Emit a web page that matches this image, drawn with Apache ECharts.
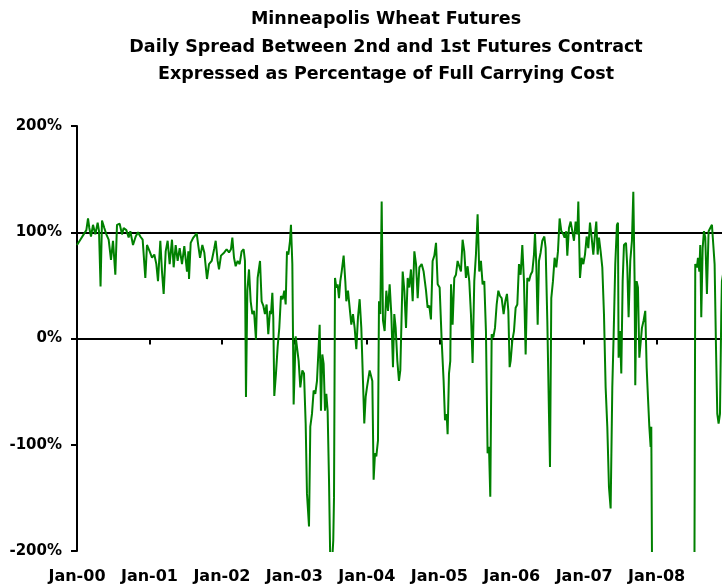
<!DOCTYPE html>
<html>
<head>
<meta charset="utf-8">
<script src="https://cdn.jsdelivr.net/npm/echarts@6/dist/echarts.min.js"></script>
<style>
  html, body { margin: 0; padding: 0; overflow: hidden; background: #fff; width: 722px; height: 588px; }
  #chart { width: 772px; height: 588px; }
</style>
</head>
<body>
<div id="chart"></div>
<script>
// Chart title, one entry per line
const titleLines = [
  'Minneapolis Wheat Futures',
  'Daily Spread Between 2nd and 1st Futures Contract',
  'Expressed as Percentage of Full Carrying Cost'
];

// Axis tick labels
const xTickLabels = ['Jan-00', 'Jan-01', 'Jan-02', 'Jan-03', 'Jan-04', 'Jan-05', 'Jan-06', 'Jan-07', 'Jan-08'];
const yTickLabels = ['-200%', '-100%', '0%', '100%', '200%'];

// Observation dates as fractional years
const sampleYears = [
  2000.000, 2000.046, 2000.092, 2000.129, 2000.152, 2000.170, 2000.193, 2000.221, 2000.253, 2000.285,
  2000.304, 2000.325, 2000.345, 2000.377, 2000.405, 2000.437, 2000.469, 2000.497, 2000.529, 2000.552,
  2000.589, 2000.621, 2000.644, 2000.681, 2000.713, 2000.736, 2000.773, 2000.810, 2000.842, 2000.874,
  2000.906, 2000.929, 2000.943, 2000.966,
  2001.003, 2001.035, 2001.067, 2001.095, 2001.118, 2001.150, 2001.173, 2001.196, 2001.224, 2001.251,
  2001.279, 2001.311, 2001.334, 2001.362, 2001.389, 2001.417, 2001.449, 2001.481, 2001.518,
  2001.537, 2001.546, 2001.569, 2001.606, 2001.652, 2001.675, 2001.698, 2001.730, 2001.757, 2001.794,
  2001.822, 2001.859, 2001.895, 2001.914, 2001.941, 2001.960, 2001.987,
  2002.033, 2002.065, 2002.098, 2002.125, 2002.144, 2002.167, 2002.190, 2002.217, 2002.245, 2002.272,
  2002.300, 2002.318, 2002.332, 2002.351, 2002.374, 2002.397, 2002.420, 2002.443, 2002.470, 2002.493,
  2002.526, 2002.548, 2002.571, 2002.594, 2002.617, 2002.640, 2002.663, 2002.677, 2002.696, 2002.709,
  2002.723, 2002.746, 2002.769, 2002.792, 2002.815, 2002.838, 2002.861, 2002.880, 2002.898, 2002.917,
  2002.940, 2002.953, 2002.972, 2002.990,
  2003.018, 2003.036, 2003.059, 2003.082, 2003.110, 2003.133, 2003.156, 2003.174, 2003.202, 2003.220,
  2003.243, 2003.266, 2003.289, 2003.312, 2003.335, 2003.349, 2003.367, 2003.386, 2003.404, 2003.423,
  2003.441, 2003.459, 2003.478, 2003.501, 2003.524, 2003.537, 2003.547, 2003.561, 2003.579, 2003.597,
  2003.616, 2003.634, 2003.653, 2003.680, 2003.703, 2003.717, 2003.740, 2003.763, 2003.786, 2003.809,
  2003.832, 2003.855, 2003.878, 2003.901, 2003.924, 2003.947, 2003.965, 2003.984,
  2004.002, 2004.021, 2004.039, 2004.062, 2004.076, 2004.094, 2004.113, 2004.131, 2004.154, 2004.168,
  2004.186, 2004.205, 2004.223, 2004.246, 2004.269, 2004.292, 2004.315, 2004.338, 2004.361, 2004.379,
  2004.398, 2004.421, 2004.444, 2004.462,
  2004.495, 2004.518, 2004.541, 2004.564, 2004.586, 2004.609, 2004.633, 2004.656, 2004.679, 2004.702,
  2004.725, 2004.757, 2004.784, 2004.817, 2004.839, 2004.862, 2004.885, 2004.908, 2004.932, 2004.955,
  2004.978,
  2005.005, 2005.033, 2005.060, 2005.079, 2005.102, 2005.115, 2005.134, 2005.152, 2005.162, 2005.184,
  2005.207, 2005.230, 2005.253, 2005.276, 2005.299, 2005.322, 2005.345, 2005.368, 2005.391, 2005.414,
  2005.437, 2005.460, 2005.483, 2005.506, 2005.529, 2005.552, 2005.575, 2005.598, 2005.621, 2005.644,
  2005.667, 2005.686, 2005.704, 2005.723, 2005.746, 2005.769, 2005.792, 2005.815, 2005.838, 2005.861,
  2005.888, 2005.911, 2005.934, 2005.953, 2005.971, 2005.985,
  2006.008, 2006.031, 2006.054, 2006.077, 2006.100, 2006.123, 2006.146, 2006.169, 2006.192, 2006.215,
  2006.238, 2006.261, 2006.284, 2006.307, 2006.321, 2006.339, 2006.358, 2006.376, 2006.399, 2006.422,
  2006.450, 2006.468, 2006.491, 2006.514, 2006.528, 2006.546, 2006.569, 2006.592, 2006.615, 2006.638,
  2006.661, 2006.684, 2006.707, 2006.730, 2006.753, 2006.767, 2006.790, 2006.813, 2006.836, 2006.859,
  2006.882, 2006.905, 2006.919, 2006.942, 2006.965, 2006.988,
  2007.011, 2007.034, 2007.057, 2007.080, 2007.103, 2007.126, 2007.149, 2007.167, 2007.186, 2007.204,
  2007.227, 2007.250, 2007.273, 2007.296, 2007.319, 2007.342, 2007.365, 2007.388, 2007.406, 2007.429,
  2007.452, 2007.466, 2007.475, 2007.494, 2007.512, 2007.531, 2007.549, 2007.577, 2007.595, 2007.613,
  2007.636, 2007.659, 2007.678, 2007.696, 2007.705, 2007.724, 2007.742, 2007.761, 2007.779, 2007.797,
  2007.820, 2007.843, 2007.862, 2007.880, 2007.899, 2007.917, 2007.926, 2007.940,
  2008.100, 2008.300, 2008.520, 2008.533, 2008.556, 2008.570, 2008.589, 2008.602, 2008.616, 2008.635,
  2008.653, 2008.671, 2008.694, 2008.717, 2008.740, 2008.763, 2008.782, 2008.800, 2008.819, 2008.837,
  2008.855, 2008.874, 2008.892, 2008.901, 2008.950
];

// Spread between 2nd and 1st contract, % of full carrying cost
const spreadPct = [
  88, 93, 98, 102, 113, 104, 96, 107, 98, 109,
  101, 49, 111, 104, 98, 93, 74, 92, 60, 107,
  108, 98, 104, 102, 95, 101, 88, 96, 100, 96,
  93, 92, 57, 88,
  82, 76, 79, 70, 54, 92, 63, 42, 82, 92,
  70, 93, 67, 88, 73, 85, 70, 87, 63,
  82, 56, 90, 95, 99, 87, 76, 88, 81, 56,
  70, 73, 85, 92, 73, 65, 78,
  81, 84, 81, 84, 95, 76, 68, 73, 70, 82,
  84, 73, -55, 45, 65, 35, 23, 26, -1, 57,
  73, 35, 31, 23, 32, 4, 26, 23, 43, 20,
  -54, -33, -8, 10, 40, 37, 45, 32, 82, 79,
  92, 107, 70, -62,
  2, -8, -21, -46, -30, -33, -80, -146, -177, -83,
  -71, -49, -52, -40, -8, 13, -68, -15, -24, -68,
  -52, -68, -133, -235, -235, -190, -150, 57, 48, 51,
  38, 54, 63, 78, 54, 35, 45, 45, 13, 23,
  10, -10, 20, 37, 10, -40, -80, -55,
  -46, -46, -30, -29, -40, -133, -108, -111, -96, 35,
  23, 129, 17, 7, 45, 26, 51, 23, -27, 23,
  10, -21, -40, -30,
  63, 45, 10, 57, 48, 65, 35, 82, 70, 38,
  67, 70, 63, 45, 29, 31, 18, 73, 78, 90,
  51,
  48, -2, -40, -77, -71, -90, -33, -21, 51, 13,
  57, 60, 73, 74, 63, 93, 82, 57, 68, 54,
  23, -23, 54, 79, 117, 63, 73, 51, 54, 7,
  -108, -102, -149, 4, 1, 10, 32, 45, 40, 38,
  23, 35, 42, 26, -27, -21,
  -2, 7, 29, 32, 70, 60, 88, 54, -15, 57,
  54, 60, 63, 79, 99, 70, 13, 73, 81, 92,
  96, 85, 17, -71, -121, 38, 54, 76, 67, 82,
  113, 101, 99, 95, 101, 78, 104, 110, 101, 92,
  110, 98, 129, 57, 76, 70,
  79, 96, 85, 109, 95, 79, 98, 110, 79, 95,
  82, 67, 23, -46, -83, -140, -160, -46, 2, 70,
  107, 109, -18, 7, -33, 54, 88, 90, 67, 20,
  73, 92, 138, 54, -44, 54, 48, -18, -18, 10,
  17, 26, -27, -55, -83, -102, -83, -260,
  -320, -300, -260, 70, 67, 76, 63, 88, 20, 85,
  101, 95, 42, 101, 104, 107, 88, 70, -8, -71,
  -80, -71, 23, 54, 75
];

// Reference level for a full carrying charge
const fullCarryPct = 100;

const chart = echarts.init(document.getElementById('chart'), null, { renderer: 'canvas' });

const axisFont = { fontFamily: 'DejaVu Sans', fontWeight: 'bold', color: '#000' };
const firstYear = 2000;

chart.setOption({
  animation: false,
  backgroundColor: '#fff',
  title: {
    text: titleLines.join('\n'),
    left: 'center',
    top: 6,
    padding: 0,
    textStyle: {
      fontFamily: 'DejaVu Sans',
      fontWeight: 'bold',
      fontSize: 17.5,
      lineHeight: 27.5,
      color: '#000'
    }
  },
  grid: {
    left: 77,
    right: 42.9,
    top: 126,
    bottom: 37,
    containLabel: false,
    outerBoundsMode: 'none'
  },
  xAxis: [
    {
      // date labels along the bottom edge
      type: 'value',
      min: 2000,
      max: 2009,
      interval: 1,
      position: 'bottom',
      axisLine: { show: false, onZero: false },
      axisTick: { show: false },
      splitLine: { show: false },
      axisLabel: {
        ...axisFont,
        fontSize: 16,
        margin: 18,
        showMaxLabel: false,
        formatter: v => xTickLabels[Math.round(v) - firstYear] || ''
      }
    },
    {
      // zero line with yearly tick marks
      type: 'value',
      min: 2000,
      max: 2009,
      interval: 1,
      position: 'top',
      axisLine: { show: true, onZero: true, lineStyle: { color: '#000', width: 2 } },
      axisTick: { show: true, inside: true, length: 6, lineStyle: { color: '#000', width: 2 } },
      axisLabel: { show: false },
      splitLine: { show: false }
    }
  ],
  yAxis: {
    type: 'value',
    min: -200,
    max: 200,
    interval: 100,
    axisLine: { show: true, lineStyle: { color: '#000', width: 2 } },
    axisTick: { show: true, length: 6, lineStyle: { color: '#000', width: 2 } },
    splitLine: { show: false },
    axisLabel: {
      ...axisFont,
      fontSize: 15,
      margin: 15,
      formatter: v => yTickLabels[Math.round((v + 200) / 100)]
    }
  },
  series: [
    {
      type: 'line',
      xAxisIndex: 0,
      data: sampleYears.map((t, i) => [t, spreadPct[i]]),
      showSymbol: false,
      symbol: 'none',
      clip: true,
      lineStyle: { color: '#008000', width: 2 },
      z: 3,
      markLine: {
        silent: true,
        symbol: ['none', 'none'],
        label: { show: false },
        lineStyle: { color: '#000', width: 2, type: 'solid' },
        data: [{ yAxis: fullCarryPct }],
        z: 2
      }
    }
  ]
});
</script>
</body>
</html>
